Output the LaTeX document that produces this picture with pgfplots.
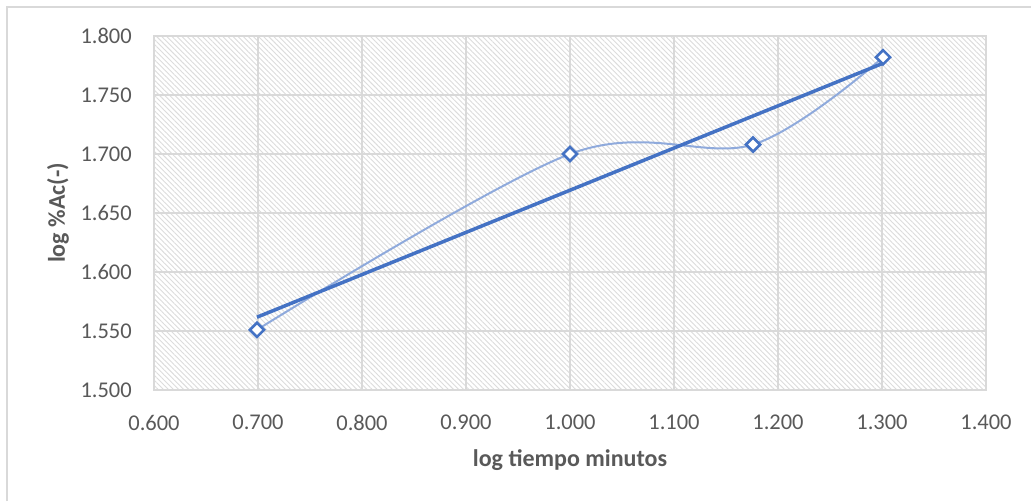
\documentclass[border=0pt]{standalone}
\usepackage{fontspec}
\setmainfont{Carlito}
\usepackage{pgfplots}
\pgfplotsset{compat=1.18}
\usetikzlibrary{patterns.meta}
\definecolor{ticktext}{HTML}{595959}
\definecolor{gridc}{HTML}{D9D9D9}
\definecolor{ser}{HTML}{4472C4}
\definecolor{serl}{HTML}{8FAADC}
\definecolor{hatch}{HTML}{DCDCDC}
\begin{document}
\begin{tikzpicture}[x=1pt,y=1pt]
\useasboundingbox (0,0) rectangle (1031,501);
\draw[gridc, line width=1.5pt] (7,0) -- (7,494) -- (1031,494);
\begin{axis}[
  at={(154pt,111pt)}, anchor=south west,
  scale only axis, width=832pt, height=354pt,
  xmin=0.6, xmax=1.4, ymin=1.5, ymax=1.8,
  xtick={0.6,0.7,0.8,0.9,1.0,1.1,1.2,1.3,1.4},
  ytick={1.5,1.55,1.6,1.65,1.7,1.75,1.8},
  grid=major,
  major grid style={gridc, line width=1.5pt},
  axis line style={gridc, line width=1.5pt},
  major tick length=0pt,
  axis background/.style={fill=white, postaction={pattern={Lines[angle=-45,distance=3.6pt,line width=0.9pt]}, pattern color=hatch}},
  /pgf/number format/assume math mode=true,
  /pgf/number format/fixed,
  /pgf/number format/fixed zerofill,
  /pgf/number format/precision=3,
  ticklabel style={font=\fontsize{22.5}{27}\selectfont, text=ticktext, inner sep=0pt},
  yticklabel style={anchor=east, xshift=-22pt},
  xticklabel style={anchor=north, yshift=-25pt},
  xlabel={log tiempo minutos},
  ylabel={log \%Ac(-)},
  label style={font=\fontsize{24}{28}\selectfont\bfseries, text=ticktext},
  xlabel style={at={(axis description cs:0.5,-0.198)}, anchor=center},
  ylabel style={at={(axis description cs:-0.1154,0.5)}, anchor=center},
]
\addplot[serl, line width=2pt, smooth, tension=0.55, no marks] coordinates {
  (0.699,1.551) (1.000,1.700) (1.176,1.708) (1.301,1.782)
};
\addplot[ser, line width=3.5pt, no marks] coordinates {
  (0.699,1.5617) (1.301,1.7769)
};
\addplot[only marks, mark=square*, mark size=5pt, mark options={rotate=45, fill=white, draw=ser, line width=2.6pt}] coordinates {
  (0.699,1.551) (1.000,1.700) (1.176,1.708) (1.301,1.782)
};
\end{axis}
\end{tikzpicture}
\end{document}
